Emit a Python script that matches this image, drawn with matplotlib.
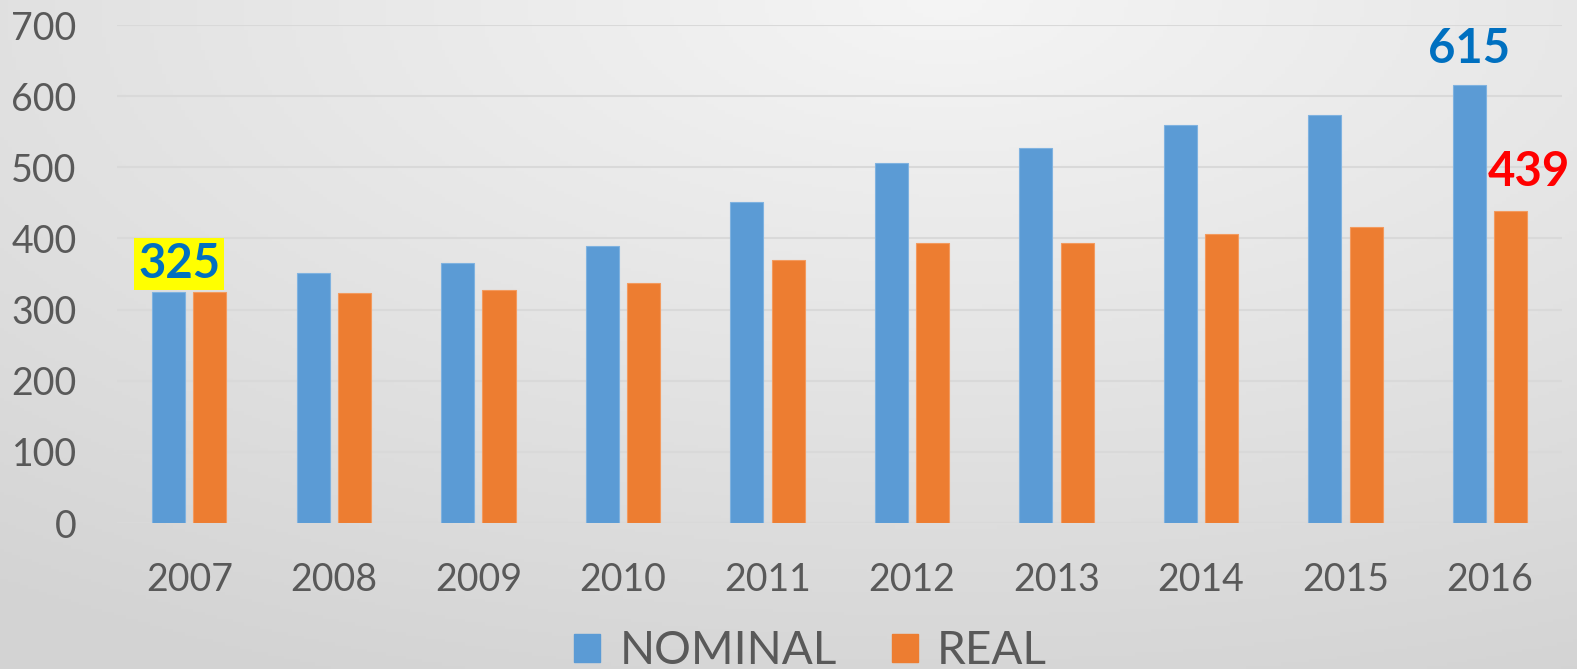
import numpy as np
import matplotlib.pyplot as plt
from matplotlib.patches import Patch

# Data

years = ['2007', '2008', '2009', '2010', '2011', '2012', '2013', '2014', '2015', '2016']
nominal = [325, 352, 365, 390, 451, 506, 527, 560, 574, 615]
real = [325, 323, 327, 338, 370, 393, 393, 406, 416, 439]

blue = '#5B9BD5'
orange = '#ED7D31'
grey_txt = '#595959'
font = ['Lato', 'DejaVu Sans']

plt.rcParams['font.family'] = font

fig = plt.figure(figsize=(15.77, 6.69), dpi=100)

# Background gradient
bg = fig.add_axes([0, 0, 1, 1], zorder=-10)
xx, yy = np.meshgrid(np.linspace(0, 1, 400), np.linspace(0, 1, 200))
r = np.sqrt(((xx - 0.6) / 1.0) ** 2 + ((yy - 0.0) / 1.1) ** 2)
shade = 0.96 - 0.13 * np.clip(r, 0, 1)
bg.imshow(np.dstack([shade] * 3), aspect='auto', extent=[0, 1, 1, 0])
bg.set_xlim(0, 1)
bg.set_ylim(1, 0)
bg.axis('off')

ax = fig.add_axes([0.0742, 0.2182, 0.9165, 0.7444])
ax.patch.set_alpha(0)

x = np.arange(len(years))
w = 0.229
off = 0.143
ax.bar(x - off, nominal, w, color=blue, edgecolor='#7FB2E0', linewidth=0.8, zorder=3, label='NOMINAL')
ax.bar(x + off, real, w, color=orange, edgecolor='#F39A5E', linewidth=0.8, zorder=3, label='REAL')

ax.set_xlim(-0.5, len(years) - 0.5)
ax.set_ylim(0, 700)
ax.set_yticks(range(0, 701, 100))
ax.set_xticks(x)
ax.set_xticklabels(years)
ax.grid(axis='y', color='#D9D9D9', linewidth=1.5, zorder=0)
for s in ax.spines.values():
    s.set_visible(False)
ax.tick_params(length=0, colors=grey_txt, labelsize=27)
ax.tick_params(axis='y', pad=29)
ax.tick_params(axis='x', pad=28)

# Annotations
ax.text(x[0] - 0.07, nominal[0] + 8, str(nominal[0]), ha='center', va='bottom', fontsize=34,
        fontweight='bold', color='#0070C0', zorder=5,
        bbox=dict(boxstyle='square,pad=0.08', facecolor='#FFFF00', edgecolor='none'))
ax.text(x[-1] - off, 666, str(nominal[-1]), ha='center', va='center', fontsize=34,
        fontweight='bold', color='#0070C0', zorder=5)
ax.text(x[-1] + 0.27, 494, str(real[-1]), ha='center', va='center', fontsize=34,
        fontweight='bold', color='#FF0000', zorder=5)

handles = [Patch(color=blue, label='NOMINAL'), Patch(color=orange, label='REAL')]
fig.legend(handles=handles, loc='center', bbox_to_anchor=(0.514, 0.027), ncol=2, frameon=False,
           fontsize=33, labelcolor=grey_txt, handlelength=0.57, handleheight=0.57,
           handletextpad=0.42, columnspacing=1.2, borderpad=0)

fig.savefig('out.png', dpi=100)
